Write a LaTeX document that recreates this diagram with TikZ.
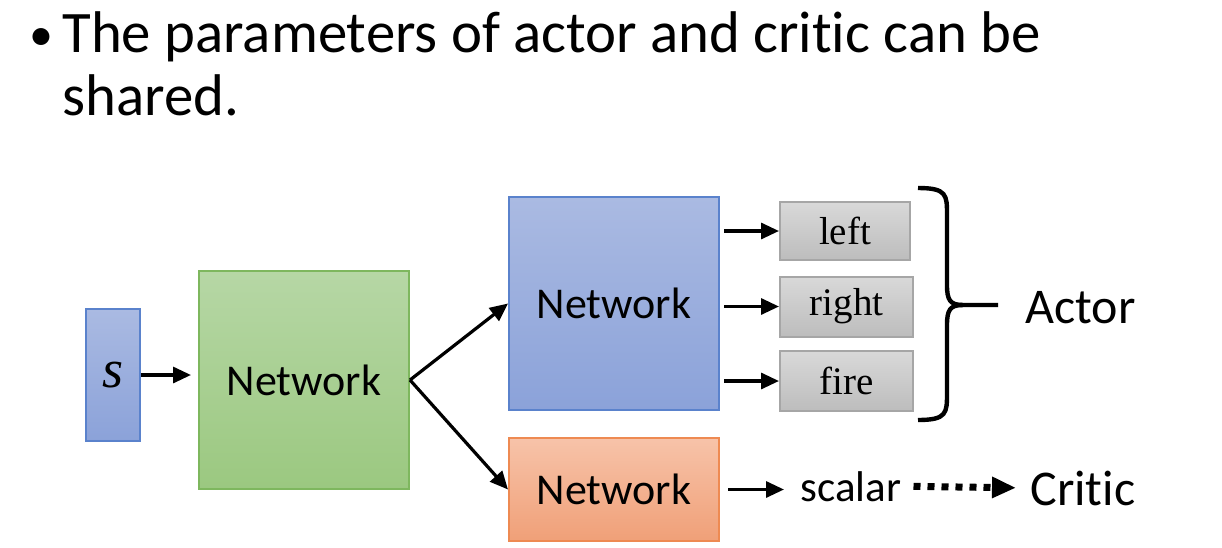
\documentclass[tikz,border=0pt]{standalone}
\usepackage{fontspec}
\setmainfont{Carlito}[Ligatures=NoCommon]
\newfontfamily\actfont{Liberation Serif}
\usetikzlibrary{arrows.meta,positioning}

\definecolor{blueTop}{HTML}{AABAE2}
\definecolor{blueBot}{HTML}{8BA2D9}
\definecolor{blueLine}{HTML}{5A82CC}
\definecolor{greenTop}{HTML}{B6D7A5}
\definecolor{greenBot}{HTML}{9BC880}
\definecolor{greenLine}{HTML}{7EB75E}
\definecolor{orangeTop}{HTML}{F7C3A9}
\definecolor{orangeBot}{HTML}{F0A078}
\definecolor{orangeLine}{HTML}{EE8A52}

\begin{document}
\begin{tikzpicture}[x=0.5pt,y=-0.5pt]
  \useasboundingbox (0,0) rectangle (1222,547);
  % title
  \node[anchor=base west,inner sep=0pt,font=\fontsize{24}{28}\selectfont] (bullet) at (29,50) {\textbullet};
  \node[anchor=base west,inner sep=0pt,font=\fontsize{29.4}{34}\selectfont] (line1) at (62,52) {The parameters of actor and critic can be};
  \node[anchor=base west,inner sep=0pt,font=\fontsize{29.4}{34}\selectfont] (line2) at (62,115) {shared.};
  \begin{scope}[every node/.style={draw,line width=1pt,inner sep=0pt,font=\fontsize{22}{26}\selectfont}]
    \node[draw=blueLine,top color=blueTop,bottom color=blueBot,minimum width=27pt,minimum height=66pt,font=\actfont\itshape\fontsize{27}{30}\selectfont] (s) at (113,375) {s};
    \node[draw=greenLine,top color=greenTop,bottom color=greenBot,minimum width=105pt,minimum height=109pt] (shared) at (304,380) {Network};
    \node[draw=blueLine,top color=blueTop,bottom color=blueBot,minimum width=105pt,minimum height=106.5pt] (actornet) at (614,303.5) {Network};
    \node[draw=orangeLine,top color=orangeTop,bottom color=orangeBot,minimum width=105pt,minimum height=51.5pt] (criticnet) at (614,489.5) {Network};
  \end{scope}
  \begin{scope}[every node/.style={draw=black!35,line width=1pt,top color=black!15,bottom color=black!26,inner sep=0pt,minimum height=30pt,font=\actfont\fontsize{19.5}{22}\selectfont}]
    \node[minimum width=65pt,minimum height=29pt] (left) at (845,231) {left};
    \node[minimum width=66.5pt] (right) at (846.5,306.5) {right};
    \node[minimum width=66.5pt] (fire) at (846.5,381) {fire};
  \end{scope}
  \node[anchor=base west,inner sep=0pt,font=\fontsize{21.5}{24}\selectfont] (scalar) at (800,501) {scalar};
  \node[anchor=base west,inner sep=0pt,font=\fontsize{25}{30}\selectfont] (actor) at (1025,323) {Actor};
  \node[anchor=base west,inner sep=0pt,font=\fontsize{25}{30}\selectfont] (critic) at (1030,505) {Critic};
  \begin{scope}[every edge/.style={draw=black,line width=1.6pt,-{Triangle[length=9pt,width=8pt]}}]
    \path (s) edge[shorten >=3.5pt] (shared.west |- s);
    \path (shared.east) edge (actornet.west);
    \path (shared.east) edge (criticnet.west);
    \path (actornet.east |- left) edge[shorten <=2pt] (left);
    \path (actornet.east |- right) edge[shorten <=2pt] (right);
    \path (actornet.east |- fire) edge[shorten <=2pt] (fire);
    \path (criticnet.east) edge[shorten <=4pt,shorten >=8pt] (criticnet.east -| scalar.west);
    \path (scalar.east) edge[line width=3.5pt,dash pattern=on 3.5pt off 3.5pt,shorten <=6pt,shorten >=7pt,-{Triangle[length=12pt,width=10pt]}] (critic.west);
  \end{scope}
  % brace
  \coordinate (tip) at (998,305);
  \draw[line width=2.2pt] (918,188) .. controls (947,188) and (947,195) .. (947,215) -- (947,285)
    .. controls (947,300) and (950,305) .. (963,305) -- (tip);
  \draw[line width=2.2pt] (918,420) .. controls (947,420) and (947,413) .. (947,393) -- (947,325)
    .. controls (947,310) and (950,305) .. (963,305);
\end{tikzpicture}
\end{document}
